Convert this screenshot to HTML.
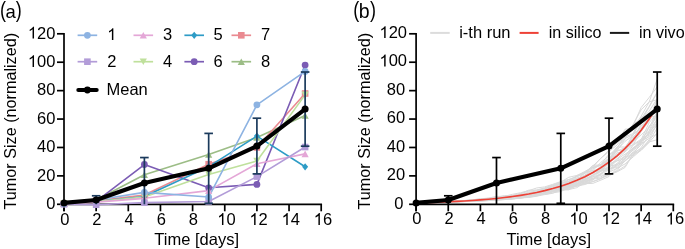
<!DOCTYPE html>
<html><head><meta charset="utf-8"><style>
html,body{margin:0;padding:0;background:#fff;width:685px;height:249px;overflow:hidden}
svg{display:block;will-change:transform}
text{font-family:"Liberation Sans", sans-serif;fill:#000}
</style></head><body>
<svg width="685" height="249" viewBox="0 0 685 249">
<text transform="translate(0.1,17.0) scale(0.8,1)" font-size="22.5">(</text><text x="5.5" y="17.7" font-size="18.5">a</text><text transform="translate(15.8,17.0) scale(0.8,1)" font-size="22.5">)</text>
<line x1="64.00" y1="33.00" x2="64.00" y2="211.30" stroke="#000" stroke-width="1.7"/>
<line x1="63.15" y1="204.30" x2="322.05" y2="204.30" stroke="#000" stroke-width="1.7"/>
<line x1="57.00" y1="204.30" x2="64.00" y2="204.30" stroke="#000" stroke-width="1.7"/>
<text x="46.22" y="209.10" font-size="16.5">0</text>
<line x1="57.00" y1="175.88" x2="64.00" y2="175.88" stroke="#000" stroke-width="1.7"/>
<text x="37.05" y="180.68" font-size="16.5">2</text><text x="46.22" y="180.68" font-size="16.5">0</text>
<line x1="57.00" y1="147.47" x2="64.00" y2="147.47" stroke="#000" stroke-width="1.7"/>
<text x="37.05" y="152.27" font-size="16.5">4</text><text x="46.22" y="152.27" font-size="16.5">0</text>
<line x1="57.00" y1="119.05" x2="64.00" y2="119.05" stroke="#000" stroke-width="1.7"/>
<text x="37.05" y="123.85" font-size="16.5">6</text><text x="46.22" y="123.85" font-size="16.5">0</text>
<line x1="57.00" y1="90.64" x2="64.00" y2="90.64" stroke="#000" stroke-width="1.7"/>
<text x="37.05" y="95.44" font-size="16.5">8</text><text x="46.22" y="95.44" font-size="16.5">0</text>
<line x1="57.00" y1="62.22" x2="64.00" y2="62.22" stroke="#000" stroke-width="1.7"/>
<path transform="translate(27.87,67.02) scale(0.00806,-0.00806)" d="M763,0 L583,0 L583,1147 C540,1106 483,1064 413,1023 C343,982 280,951 223,930 L223,1104 C324,1151 412,1209 487,1276 C562,1343 615,1409 646,1466 L763,1466 Z" fill="#000"/><text x="37.05" y="67.02" font-size="16.5">0</text><text x="46.22" y="67.02" font-size="16.5">0</text>
<line x1="57.00" y1="33.80" x2="64.00" y2="33.80" stroke="#000" stroke-width="1.7"/>
<path transform="translate(27.87,38.60) scale(0.00806,-0.00806)" d="M763,0 L583,0 L583,1147 C540,1106 483,1064 413,1023 C343,982 280,951 223,930 L223,1104 C324,1151 412,1209 487,1276 C562,1343 615,1409 646,1466 L763,1466 Z" fill="#000"/><text x="37.05" y="38.60" font-size="16.5">2</text><text x="46.22" y="38.60" font-size="16.5">0</text>
<line x1="64.00" y1="204.30" x2="64.00" y2="211.30" stroke="#000" stroke-width="1.7"/>
<text x="60.21" y="224.90" font-size="16.5">0</text>
<line x1="96.15" y1="204.30" x2="96.15" y2="211.30" stroke="#000" stroke-width="1.7"/>
<text x="92.36" y="224.90" font-size="16.5">2</text>
<line x1="128.30" y1="204.30" x2="128.30" y2="211.30" stroke="#000" stroke-width="1.7"/>
<text x="124.51" y="224.90" font-size="16.5">4</text>
<line x1="160.45" y1="204.30" x2="160.45" y2="211.30" stroke="#000" stroke-width="1.7"/>
<text x="156.66" y="224.90" font-size="16.5">6</text>
<line x1="192.60" y1="204.30" x2="192.60" y2="211.30" stroke="#000" stroke-width="1.7"/>
<text x="188.81" y="224.90" font-size="16.5">8</text>
<line x1="224.75" y1="204.30" x2="224.75" y2="211.30" stroke="#000" stroke-width="1.7"/>
<path transform="translate(217.27,224.90) scale(0.00806,-0.00806)" d="M763,0 L583,0 L583,1147 C540,1106 483,1064 413,1023 C343,982 280,951 223,930 L223,1104 C324,1151 412,1209 487,1276 C562,1343 615,1409 646,1466 L763,1466 Z" fill="#000"/><text x="226.45" y="224.90" font-size="16.5">0</text>
<line x1="256.90" y1="204.30" x2="256.90" y2="211.30" stroke="#000" stroke-width="1.7"/>
<path transform="translate(249.42,224.90) scale(0.00806,-0.00806)" d="M763,0 L583,0 L583,1147 C540,1106 483,1064 413,1023 C343,982 280,951 223,930 L223,1104 C324,1151 412,1209 487,1276 C562,1343 615,1409 646,1466 L763,1466 Z" fill="#000"/><text x="258.60" y="224.90" font-size="16.5">2</text>
<line x1="289.05" y1="204.30" x2="289.05" y2="211.30" stroke="#000" stroke-width="1.7"/>
<path transform="translate(281.57,224.90) scale(0.00806,-0.00806)" d="M763,0 L583,0 L583,1147 C540,1106 483,1064 413,1023 C343,982 280,951 223,930 L223,1104 C324,1151 412,1209 487,1276 C562,1343 615,1409 646,1466 L763,1466 Z" fill="#000"/><text x="290.75" y="224.90" font-size="16.5">4</text>
<line x1="321.20" y1="204.30" x2="321.20" y2="211.30" stroke="#000" stroke-width="1.7"/>
<path transform="translate(313.72,224.90) scale(0.00806,-0.00806)" d="M763,0 L583,0 L583,1147 C540,1106 483,1064 413,1023 C343,982 280,951 223,930 L223,1104 C324,1151 412,1209 487,1276 C562,1343 615,1409 646,1466 L763,1466 Z" fill="#000"/><text x="322.90" y="224.90" font-size="16.5">6</text>
<text x="196.70" y="244.7" text-anchor="middle" font-size="16.5">Time [days]</text>
<text transform="translate(15.80,121.20) rotate(-90)" x="0" y="0" text-anchor="middle" font-size="16.2">Tumor Size (normalized)</text>
<polyline points="64.00,203.59 96.15,200.04 144.38,174.75 208.67,154.57 256.90,137.52 305.12,115.50" fill="none" stroke="#9cbd86" stroke-width="1.6" stroke-linejoin="round"/>
<polyline points="64.00,203.59 96.15,200.75 144.38,195.06 208.67,164.23 256.90,147.47 305.12,93.48" fill="none" stroke="#ea8a91" stroke-width="1.6" stroke-linejoin="round"/>
<polyline points="64.00,203.59 96.15,201.46 144.38,164.52 208.67,187.82 256.90,184.41 305.12,65.06" fill="none" stroke="#7b5cb4" stroke-width="1.6" stroke-linejoin="round"/>
<polyline points="64.00,203.59 96.15,201.46 144.38,196.49 208.67,166.65 256.90,136.10 305.12,166.79" fill="none" stroke="#2e9cc6" stroke-width="1.6" stroke-linejoin="round"/>
<polyline points="64.00,203.59 96.15,201.46 144.38,197.05 208.67,174.46 256.90,160.97 305.12,94.90" fill="none" stroke="#bfe09c" stroke-width="1.6" stroke-linejoin="round"/>
<polyline points="64.00,203.59 96.15,202.17 144.38,198.33 208.67,190.66 256.90,163.81 305.12,153.86" fill="none" stroke="#e4a7d7" stroke-width="1.6" stroke-linejoin="round"/>
<polyline points="64.00,204.30 96.15,204.73 144.38,202.60 208.67,201.46 256.90,176.59 305.12,147.04" fill="none" stroke="#b29cd8" stroke-width="1.6" stroke-linejoin="round"/>
<polyline points="64.00,203.59 96.15,200.04 144.38,192.37 208.67,197.05 256.90,104.84 305.12,71.46" fill="none" stroke="#8db3e2" stroke-width="1.6" stroke-linejoin="round"/>
<polygon points="64.00,200.29 67.60,206.89 60.40,206.89" fill="#9cbd86"/>
<polygon points="96.15,196.74 99.75,203.34 92.55,203.34" fill="#9cbd86"/>
<polygon points="144.38,171.45 147.97,178.05 140.78,178.05" fill="#9cbd86"/>
<polygon points="208.67,151.27 212.27,157.87 205.07,157.87" fill="#9cbd86"/>
<polygon points="256.90,134.22 260.50,140.82 253.30,140.82" fill="#9cbd86"/>
<polygon points="305.12,112.20 308.73,118.80 301.52,118.80" fill="#9cbd86"/>
<rect x="60.70" y="200.29" width="6.60" height="6.60" fill="#ea8a91"/>
<rect x="92.85" y="197.45" width="6.60" height="6.60" fill="#ea8a91"/>
<rect x="141.07" y="191.76" width="6.60" height="6.60" fill="#ea8a91"/>
<rect x="205.37" y="160.93" width="6.60" height="6.60" fill="#ea8a91"/>
<rect x="253.60" y="144.17" width="6.60" height="6.60" fill="#ea8a91"/>
<rect x="301.82" y="90.18" width="6.60" height="6.60" fill="#ea8a91"/>
<circle cx="64.00" cy="203.59" r="3.40" fill="#7b5cb4"/>
<circle cx="96.15" cy="201.46" r="3.40" fill="#7b5cb4"/>
<circle cx="144.38" cy="164.52" r="3.40" fill="#7b5cb4"/>
<circle cx="208.67" cy="187.82" r="3.40" fill="#7b5cb4"/>
<circle cx="256.90" cy="184.41" r="3.40" fill="#7b5cb4"/>
<circle cx="305.12" cy="65.06" r="3.40" fill="#7b5cb4"/>
<polygon points="64.00,199.99 67.00,203.59 64.00,207.19 61.00,203.59" fill="#2e9cc6"/>
<polygon points="96.15,197.86 99.15,201.46 96.15,205.06 93.15,201.46" fill="#2e9cc6"/>
<polygon points="144.38,192.89 147.38,196.49 144.38,200.09 141.38,196.49" fill="#2e9cc6"/>
<polygon points="208.67,163.05 211.67,166.65 208.67,170.25 205.67,166.65" fill="#2e9cc6"/>
<polygon points="256.90,132.50 259.90,136.10 256.90,139.70 253.90,136.10" fill="#2e9cc6"/>
<polygon points="305.12,163.19 308.12,166.79 305.12,170.39 302.12,166.79" fill="#2e9cc6"/>
<polygon points="60.40,200.29 67.60,200.29 64.00,206.89" fill="#bfe09c"/>
<polygon points="92.55,198.16 99.75,198.16 96.15,204.76" fill="#bfe09c"/>
<polygon points="140.78,193.75 147.97,193.75 144.38,200.35" fill="#bfe09c"/>
<polygon points="205.07,171.16 212.27,171.16 208.67,177.76" fill="#bfe09c"/>
<polygon points="253.30,157.67 260.50,157.67 256.90,164.27" fill="#bfe09c"/>
<polygon points="301.52,91.60 308.73,91.60 305.12,98.20" fill="#bfe09c"/>
<polygon points="64.00,200.29 67.60,206.89 60.40,206.89" fill="#e4a7d7"/>
<polygon points="96.15,198.87 99.75,205.47 92.55,205.47" fill="#e4a7d7"/>
<polygon points="144.38,195.03 147.97,201.63 140.78,201.63" fill="#e4a7d7"/>
<polygon points="208.67,187.36 212.27,193.96 205.07,193.96" fill="#e4a7d7"/>
<polygon points="256.90,160.51 260.50,167.11 253.30,167.11" fill="#e4a7d7"/>
<polygon points="305.12,150.56 308.73,157.16 301.52,157.16" fill="#e4a7d7"/>
<rect x="60.70" y="201.00" width="6.60" height="6.60" fill="#b29cd8"/>
<rect x="92.85" y="201.43" width="6.60" height="6.60" fill="#b29cd8"/>
<rect x="141.07" y="199.30" width="6.60" height="6.60" fill="#b29cd8"/>
<rect x="205.37" y="198.16" width="6.60" height="6.60" fill="#b29cd8"/>
<rect x="253.60" y="173.29" width="6.60" height="6.60" fill="#b29cd8"/>
<rect x="301.82" y="143.74" width="6.60" height="6.60" fill="#b29cd8"/>
<circle cx="64.00" cy="203.59" r="3.40" fill="#8db3e2"/>
<circle cx="96.15" cy="200.04" r="3.40" fill="#8db3e2"/>
<circle cx="144.38" cy="192.37" r="3.40" fill="#8db3e2"/>
<circle cx="208.67" cy="197.05" r="3.40" fill="#8db3e2"/>
<circle cx="256.90" cy="104.84" r="3.40" fill="#8db3e2"/>
<circle cx="305.12" cy="71.46" r="3.40" fill="#8db3e2"/>
<line x1="96.15" y1="195.78" x2="96.15" y2="204.30" stroke="#1b3a5c" stroke-width="1.7"/>
<line x1="91.85" y1="195.78" x2="100.45" y2="195.78" stroke="#1b3a5c" stroke-width="1.7"/>
<line x1="144.38" y1="157.56" x2="144.38" y2="204.30" stroke="#1b3a5c" stroke-width="1.7"/>
<line x1="140.07" y1="157.56" x2="148.68" y2="157.56" stroke="#1b3a5c" stroke-width="1.7"/>
<line x1="208.67" y1="133.40" x2="208.67" y2="203.31" stroke="#1b3a5c" stroke-width="1.7"/>
<line x1="204.37" y1="133.40" x2="212.97" y2="133.40" stroke="#1b3a5c" stroke-width="1.7"/>
<line x1="204.37" y1="203.31" x2="212.97" y2="203.31" stroke="#1b3a5c" stroke-width="1.7"/>
<line x1="256.90" y1="118.20" x2="256.90" y2="173.89" stroke="#1b3a5c" stroke-width="1.7"/>
<line x1="252.60" y1="118.20" x2="261.20" y2="118.20" stroke="#1b3a5c" stroke-width="1.7"/>
<line x1="252.60" y1="173.89" x2="261.20" y2="173.89" stroke="#1b3a5c" stroke-width="1.7"/>
<line x1="305.12" y1="72.02" x2="305.12" y2="146.19" stroke="#1b3a5c" stroke-width="1.7"/>
<line x1="300.82" y1="72.02" x2="309.43" y2="72.02" stroke="#1b3a5c" stroke-width="1.7"/>
<line x1="300.82" y1="146.19" x2="309.43" y2="146.19" stroke="#1b3a5c" stroke-width="1.7"/>
<polyline points="64.00,202.88 96.15,200.04 144.38,182.99 208.67,168.35 256.90,146.05 305.12,109.11" fill="none" stroke="#000" stroke-width="4.1" stroke-linejoin="round" stroke-linecap="round"/>
<circle cx="64.00" cy="202.88" r="3.5" fill="#000"/>
<circle cx="96.15" cy="200.04" r="3.5" fill="#000"/>
<circle cx="144.38" cy="182.99" r="3.5" fill="#000"/>
<circle cx="208.67" cy="168.35" r="3.5" fill="#000"/>
<circle cx="256.90" cy="146.05" r="3.5" fill="#000"/>
<circle cx="305.12" cy="109.11" r="3.5" fill="#000"/>
<line x1="77.60" y1="35.30" x2="97.20" y2="35.30" stroke="#8db3e2" stroke-width="1.7"/>
<circle cx="87.40" cy="35.30" r="3.40" fill="#8db3e2"/>
<path transform="translate(107.20,40.00) scale(0.00806,-0.00806)" d="M763,0 L583,0 L583,1147 C540,1106 483,1064 413,1023 C343,982 280,951 223,930 L223,1104 C324,1151 412,1209 487,1276 C562,1343 615,1409 646,1466 L763,1466 Z" fill="#000"/>
<line x1="77.60" y1="61.70" x2="97.20" y2="61.70" stroke="#b29cd8" stroke-width="1.7"/>
<rect x="84.10" y="58.40" width="6.60" height="6.60" fill="#b29cd8"/>
<text x="107.20" y="66.70" font-size="16.5">2</text>
<line x1="133.50" y1="35.30" x2="153.10" y2="35.30" stroke="#e4a7d7" stroke-width="1.7"/>
<polygon points="143.30,32.00 146.90,38.60 139.70,38.60" fill="#e4a7d7"/>
<text x="163.10" y="40.00" font-size="16.5">3</text>
<line x1="133.50" y1="61.70" x2="153.10" y2="61.70" stroke="#bfe09c" stroke-width="1.7"/>
<polygon points="139.70,58.40 146.90,58.40 143.30,65.00" fill="#bfe09c"/>
<text x="163.10" y="66.70" font-size="16.5">4</text>
<line x1="184.40" y1="35.30" x2="204.00" y2="35.30" stroke="#2e9cc6" stroke-width="1.7"/>
<polygon points="194.20,31.70 197.20,35.30 194.20,38.90 191.20,35.30" fill="#2e9cc6"/>
<text x="213.60" y="40.00" font-size="16.5">5</text>
<line x1="184.40" y1="61.70" x2="204.00" y2="61.70" stroke="#7b5cb4" stroke-width="1.7"/>
<circle cx="194.20" cy="61.70" r="3.40" fill="#7b5cb4"/>
<text x="213.60" y="66.70" font-size="16.5">6</text>
<line x1="231.50" y1="35.30" x2="251.10" y2="35.30" stroke="#ea8a91" stroke-width="1.7"/>
<rect x="238.00" y="32.00" width="6.60" height="6.60" fill="#ea8a91"/>
<text x="261.10" y="40.00" font-size="16.5">7</text>
<line x1="231.50" y1="61.70" x2="251.10" y2="61.70" stroke="#9cbd86" stroke-width="1.7"/>
<polygon points="241.30,58.40 244.90,65.00 237.70,65.00" fill="#9cbd86"/>
<text x="261.10" y="66.70" font-size="16.5">8</text>
<line x1="78.3" y1="90.0" x2="96.7" y2="90.0" stroke="#000" stroke-width="4.0" stroke-linecap="round"/>
<circle cx="87.4" cy="90.0" r="3.4" fill="#000"/>
<text x="106.5" y="94.5" font-size="16.5">Mean</text>
<text transform="translate(353.2,17.0) scale(0.8,1)" font-size="22.5">(</text><text x="358.7" y="17.7" font-size="19.5">b</text><text transform="translate(370.0,17.0) scale(0.8,1)" font-size="22.5">)</text>
<line x1="416.10" y1="33.00" x2="416.10" y2="211.30" stroke="#000" stroke-width="1.7"/>
<line x1="415.25" y1="204.30" x2="674.15" y2="204.30" stroke="#000" stroke-width="1.7"/>
<line x1="409.10" y1="204.30" x2="416.10" y2="204.30" stroke="#000" stroke-width="1.7"/>
<text x="394.32" y="209.10" font-size="16.5">0</text>
<line x1="409.10" y1="175.88" x2="416.10" y2="175.88" stroke="#000" stroke-width="1.7"/>
<text x="386.75" y="180.08" font-size="16.5">2</text><text x="395.92" y="180.08" font-size="16.5">0</text>
<line x1="409.10" y1="147.47" x2="416.10" y2="147.47" stroke="#000" stroke-width="1.7"/>
<text x="386.75" y="151.67" font-size="16.5">4</text><text x="395.92" y="151.67" font-size="16.5">0</text>
<line x1="409.10" y1="119.05" x2="416.10" y2="119.05" stroke="#000" stroke-width="1.7"/>
<text x="386.75" y="123.25" font-size="16.5">6</text><text x="395.92" y="123.25" font-size="16.5">0</text>
<line x1="409.10" y1="90.64" x2="416.10" y2="90.64" stroke="#000" stroke-width="1.7"/>
<text x="386.75" y="94.84" font-size="16.5">8</text><text x="395.92" y="94.84" font-size="16.5">0</text>
<line x1="409.10" y1="62.22" x2="416.10" y2="62.22" stroke="#000" stroke-width="1.7"/>
<path transform="translate(379.47,66.42) scale(0.00806,-0.00806)" d="M763,0 L583,0 L583,1147 C540,1106 483,1064 413,1023 C343,982 280,951 223,930 L223,1104 C324,1151 412,1209 487,1276 C562,1343 615,1409 646,1466 L763,1466 Z" fill="#000"/><text x="388.65" y="66.42" font-size="16.5">0</text><text x="397.82" y="66.42" font-size="16.5">0</text>
<line x1="409.10" y1="33.80" x2="416.10" y2="33.80" stroke="#000" stroke-width="1.7"/>
<path transform="translate(379.47,38.00) scale(0.00806,-0.00806)" d="M763,0 L583,0 L583,1147 C540,1106 483,1064 413,1023 C343,982 280,951 223,930 L223,1104 C324,1151 412,1209 487,1276 C562,1343 615,1409 646,1466 L763,1466 Z" fill="#000"/><text x="388.65" y="38.00" font-size="16.5">2</text><text x="397.82" y="38.00" font-size="16.5">0</text>
<line x1="416.10" y1="204.30" x2="416.10" y2="211.30" stroke="#000" stroke-width="1.7"/>
<text x="412.31" y="224.40" font-size="16.5">0</text>
<line x1="448.25" y1="204.30" x2="448.25" y2="211.30" stroke="#000" stroke-width="1.7"/>
<text x="444.46" y="224.40" font-size="16.5">2</text>
<line x1="480.40" y1="204.30" x2="480.40" y2="211.30" stroke="#000" stroke-width="1.7"/>
<text x="476.61" y="224.40" font-size="16.5">4</text>
<line x1="512.55" y1="204.30" x2="512.55" y2="211.30" stroke="#000" stroke-width="1.7"/>
<text x="508.76" y="224.40" font-size="16.5">6</text>
<line x1="544.70" y1="204.30" x2="544.70" y2="211.30" stroke="#000" stroke-width="1.7"/>
<text x="540.91" y="224.40" font-size="16.5">8</text>
<line x1="576.85" y1="204.30" x2="576.85" y2="211.30" stroke="#000" stroke-width="1.7"/>
<path transform="translate(569.37,224.40) scale(0.00806,-0.00806)" d="M763,0 L583,0 L583,1147 C540,1106 483,1064 413,1023 C343,982 280,951 223,930 L223,1104 C324,1151 412,1209 487,1276 C562,1343 615,1409 646,1466 L763,1466 Z" fill="#000"/><text x="578.55" y="224.40" font-size="16.5">0</text>
<line x1="609.00" y1="204.30" x2="609.00" y2="211.30" stroke="#000" stroke-width="1.7"/>
<path transform="translate(601.52,224.40) scale(0.00806,-0.00806)" d="M763,0 L583,0 L583,1147 C540,1106 483,1064 413,1023 C343,982 280,951 223,930 L223,1104 C324,1151 412,1209 487,1276 C562,1343 615,1409 646,1466 L763,1466 Z" fill="#000"/><text x="610.70" y="224.40" font-size="16.5">2</text>
<line x1="641.15" y1="204.30" x2="641.15" y2="211.30" stroke="#000" stroke-width="1.7"/>
<path transform="translate(633.67,224.40) scale(0.00806,-0.00806)" d="M763,0 L583,0 L583,1147 C540,1106 483,1064 413,1023 C343,982 280,951 223,930 L223,1104 C324,1151 412,1209 487,1276 C562,1343 615,1409 646,1466 L763,1466 Z" fill="#000"/><text x="642.85" y="224.40" font-size="16.5">4</text>
<line x1="673.30" y1="204.30" x2="673.30" y2="211.30" stroke="#000" stroke-width="1.7"/>
<path transform="translate(665.82,224.40) scale(0.00806,-0.00806)" d="M763,0 L583,0 L583,1147 C540,1106 483,1064 413,1023 C343,982 280,951 223,930 L223,1104 C324,1151 412,1209 487,1276 C562,1343 615,1409 646,1466 L763,1466 Z" fill="#000"/><text x="675.00" y="224.40" font-size="16.5">6</text>
<text x="548.80" y="244.7" text-anchor="middle" font-size="16.5">Time [days]</text>
<text transform="translate(370.10,121.20) rotate(-90)" x="0" y="0" text-anchor="middle" font-size="16.2">Tumor Size (normalized)</text>
<polyline points="416.10,202.87 424.14,202.72 432.18,202.53 440.21,202.42 448.25,202.17 456.29,202.08 464.33,201.60 472.36,201.25 480.40,200.64 488.44,200.48 496.48,199.97 504.51,199.46 512.55,198.95 520.59,197.96 528.62,197.44 536.66,196.26 544.70,194.40 552.74,192.92 560.77,191.54 568.81,187.57 576.85,186.02 584.89,184.52 592.92,181.29 600.96,178.65 609.00,175.03 617.04,170.68 625.08,160.24 633.11,155.83 641.15,149.29 649.19,139.66 657.23,123.36" fill="none" stroke="#d9d9d9" stroke-width="1"/>
<polyline points="416.10,202.87 424.14,202.71 432.18,202.46 440.21,202.33 448.25,202.11 456.29,201.79 464.33,201.24 472.36,201.17 480.40,201.26 488.44,200.56 496.48,200.19 504.51,199.57 512.55,198.59 520.59,197.66 528.62,196.59 536.66,195.73 544.70,193.64 552.74,191.40 560.77,190.25 568.81,188.99 576.85,185.99 584.89,183.11 592.92,181.81 600.96,178.63 609.00,172.32 617.04,168.34 625.08,163.91 633.11,156.98 641.15,150.08 649.19,141.92 657.23,139.73" fill="none" stroke="#d9d9d9" stroke-width="1"/>
<polyline points="416.10,202.87 424.14,202.69 432.18,202.52 440.21,202.26 448.25,202.02 456.29,201.77 464.33,201.36 472.36,200.71 480.40,200.40 488.44,199.80 496.48,199.02 504.51,199.08 512.55,198.57 520.59,197.38 528.62,197.18 536.66,195.92 544.70,193.66 552.74,191.62 560.77,189.82 568.81,189.81 576.85,184.65 584.89,182.07 592.92,178.62 600.96,175.13 609.00,174.76 617.04,171.90 625.08,167.46 633.11,154.21 641.15,150.43 649.19,142.38 657.23,133.12" fill="none" stroke="#d9d9d9" stroke-width="1"/>
<polyline points="416.10,202.87 424.14,202.69 432.18,202.49 440.21,202.33 448.25,202.26 456.29,201.91 464.33,201.54 472.36,200.99 480.40,200.68 488.44,200.42 496.48,199.81 504.51,199.58 512.55,198.95 520.59,198.19 528.62,196.77 536.66,194.39 544.70,192.97 552.74,191.02 560.77,189.63 568.81,187.71 576.85,186.12 584.89,183.68 592.92,183.37 600.96,180.09 609.00,176.50 617.04,168.37 625.08,160.88 633.11,151.73 641.15,140.79 649.19,136.70 657.23,123.64" fill="none" stroke="#d9d9d9" stroke-width="1"/>
<polyline points="416.10,202.87 424.14,202.68 432.18,202.46 440.21,202.25 448.25,202.11 456.29,201.80 464.33,201.57 472.36,201.16 480.40,200.84 488.44,200.27 496.48,200.28 504.51,198.79 512.55,197.65 520.59,197.17 528.62,196.61 536.66,195.30 544.70,193.45 552.74,191.70 560.77,189.75 568.81,189.57 576.85,187.65 584.89,182.53 592.92,179.17 600.96,178.00 609.00,174.38 617.04,171.13 625.08,165.93 633.11,154.32 641.15,147.64 649.19,134.57 657.23,125.49" fill="none" stroke="#d9d9d9" stroke-width="1"/>
<polyline points="416.10,202.87 424.14,202.71 432.18,202.45 440.21,202.26 448.25,202.08 456.29,201.67 464.33,201.36 472.36,201.02 480.40,200.32 488.44,200.42 496.48,199.71 504.51,199.31 512.55,198.82 520.59,197.94 528.62,196.09 536.66,194.98 544.70,194.62 552.74,193.27 560.77,189.66 568.81,186.70 576.85,185.92 584.89,179.74 592.92,178.26 600.96,176.83 609.00,172.18 617.04,164.72 625.08,155.33 633.11,147.73 641.15,144.19 649.19,138.32 657.23,133.76" fill="none" stroke="#d9d9d9" stroke-width="1"/>
<polyline points="416.10,202.87 424.14,202.69 432.18,202.49 440.21,202.31 448.25,202.07 456.29,201.84 464.33,201.61 472.36,201.34 480.40,201.01 488.44,200.62 496.48,199.75 504.51,198.95 512.55,198.55 520.59,197.22 528.62,195.97 536.66,193.94 544.70,193.01 552.74,191.66 560.77,190.34 568.81,187.81 576.85,184.67 584.89,181.73 592.92,178.95 600.96,174.12 609.00,169.89 617.04,164.53 625.08,161.37 633.11,153.27 641.15,148.51 649.19,141.17 657.23,128.05" fill="none" stroke="#d9d9d9" stroke-width="1"/>
<polyline points="416.10,202.87 424.14,202.66 432.18,202.45 440.21,202.23 448.25,201.90 456.29,201.50 464.33,201.06 472.36,200.82 480.40,200.41 488.44,200.07 496.48,199.60 504.51,199.10 512.55,198.23 520.59,197.98 528.62,196.99 536.66,195.07 544.70,193.98 552.74,191.58 560.77,190.64 568.81,188.29 576.85,184.89 584.89,183.15 592.92,180.17 600.96,171.22 609.00,169.49 617.04,166.04 625.08,160.94 633.11,153.06 641.15,144.72 649.19,131.34 657.23,118.60" fill="none" stroke="#d9d9d9" stroke-width="1"/>
<polyline points="416.10,202.87 424.14,202.69 432.18,202.51 440.21,202.33 448.25,202.09 456.29,201.68 464.33,201.32 472.36,200.79 480.40,200.19 488.44,199.87 496.48,198.75 504.51,198.49 512.55,197.96 520.59,197.12 528.62,195.34 536.66,194.30 544.70,193.35 552.74,191.16 560.77,188.24 568.81,186.53 576.85,184.41 584.89,179.95 592.92,175.56 600.96,170.87 609.00,169.16 617.04,163.29 625.08,156.56 633.11,155.34 641.15,141.34 649.19,132.29 657.23,123.69" fill="none" stroke="#d9d9d9" stroke-width="1"/>
<polyline points="416.10,202.87 424.14,202.66 432.18,202.47 440.21,202.23 448.25,201.91 456.29,201.53 464.33,201.22 472.36,200.99 480.40,200.65 488.44,200.24 496.48,199.80 504.51,198.87 512.55,198.07 520.59,196.92 528.62,196.09 536.66,195.03 544.70,193.32 552.74,191.60 560.77,188.35 568.81,187.21 576.85,184.10 584.89,181.06 592.92,179.39 600.96,173.28 609.00,168.30 617.04,167.67 625.08,158.16 633.11,147.67 641.15,143.23 649.19,126.05 657.23,117.11" fill="none" stroke="#d9d9d9" stroke-width="1"/>
<polyline points="416.10,202.87 424.14,202.68 432.18,202.47 440.21,202.28 448.25,202.12 456.29,201.72 464.33,201.42 472.36,200.85 480.40,200.30 488.44,199.94 496.48,199.45 504.51,198.01 512.55,196.65 520.59,195.71 528.62,195.13 536.66,194.48 544.70,193.02 552.74,189.76 560.77,187.73 568.81,186.11 576.85,184.90 584.89,181.05 592.92,178.54 600.96,173.72 609.00,167.06 617.04,159.38 625.08,154.06 633.11,148.81 641.15,139.69 649.19,122.60 657.23,113.30" fill="none" stroke="#d9d9d9" stroke-width="1"/>
<polyline points="416.10,202.87 424.14,202.66 432.18,202.43 440.21,202.02 448.25,201.81 456.29,201.53 464.33,201.22 472.36,200.73 480.40,200.41 488.44,200.18 496.48,199.90 504.51,198.87 512.55,197.96 520.59,196.98 528.62,194.48 536.66,192.97 544.70,191.03 552.74,190.20 560.77,187.99 568.81,186.01 576.85,183.51 584.89,179.21 592.92,174.97 600.96,170.83 609.00,166.28 617.04,164.51 625.08,158.87 633.11,148.86 641.15,141.26 649.19,133.82 657.23,119.11" fill="none" stroke="#d9d9d9" stroke-width="1"/>
<polyline points="416.10,202.87 424.14,202.68 432.18,202.44 440.21,202.20 448.25,201.80 456.29,201.45 464.33,201.00 472.36,200.42 480.40,200.54 488.44,199.88 496.48,199.53 504.51,198.70 512.55,197.65 520.59,195.93 528.62,194.91 536.66,192.59 544.70,191.86 552.74,190.18 560.77,188.02 568.81,184.63 576.85,182.35 584.89,180.20 592.92,176.77 600.96,174.55 609.00,165.81 617.04,158.65 625.08,151.90 633.11,144.57 641.15,139.15 649.19,130.48 657.23,114.09" fill="none" stroke="#d9d9d9" stroke-width="1"/>
<polyline points="416.10,202.87 424.14,202.68 432.18,202.41 440.21,202.08 448.25,201.79 456.29,201.42 464.33,201.05 472.36,200.38 480.40,200.10 488.44,199.55 496.48,198.78 504.51,197.54 512.55,196.99 520.59,195.93 528.62,195.06 536.66,193.98 544.70,192.60 552.74,190.37 560.77,187.25 568.81,185.76 576.85,183.45 584.89,180.31 592.92,175.51 600.96,169.80 609.00,167.93 617.04,160.50 625.08,156.45 633.11,145.29 641.15,140.23 649.19,133.14 657.23,122.17" fill="none" stroke="#d9d9d9" stroke-width="1"/>
<polyline points="416.10,202.87 424.14,202.67 432.18,202.44 440.21,202.16 448.25,201.86 456.29,201.48 464.33,200.98 472.36,200.70 480.40,200.17 488.44,199.58 496.48,199.47 504.51,198.28 512.55,197.54 520.59,196.59 528.62,195.33 536.66,193.60 544.70,191.60 552.74,189.33 560.77,187.96 568.81,184.52 576.85,181.31 584.89,178.86 592.92,174.99 600.96,168.98 609.00,163.54 617.04,156.63 625.08,150.75 633.11,139.84 641.15,123.74 649.19,116.64 657.23,116.69" fill="none" stroke="#d9d9d9" stroke-width="1"/>
<polyline points="416.10,202.87 424.14,202.66 432.18,202.46 440.21,202.28 448.25,201.91 456.29,201.43 464.33,200.91 472.36,200.57 480.40,199.70 488.44,199.29 496.48,198.85 504.51,197.97 512.55,196.91 520.59,195.81 528.62,194.35 536.66,194.28 544.70,191.03 552.74,189.73 560.77,186.78 568.81,185.27 576.85,181.86 584.89,178.64 592.92,177.04 600.96,170.72 609.00,163.75 617.04,160.88 625.08,158.62 633.11,149.85 641.15,141.20 649.19,127.49 657.23,114.01" fill="none" stroke="#d9d9d9" stroke-width="1"/>
<polyline points="416.10,202.87 424.14,202.64 432.18,202.40 440.21,202.12 448.25,202.00 456.29,201.67 464.33,201.31 472.36,200.77 480.40,200.08 488.44,199.38 496.48,198.37 504.51,197.90 512.55,196.77 520.59,195.74 528.62,194.43 536.66,192.74 544.70,191.31 552.74,189.11 560.77,186.92 568.81,183.16 576.85,180.79 584.89,177.09 592.92,168.67 600.96,165.04 609.00,160.36 617.04,152.84 625.08,151.02 633.11,140.37 641.15,129.00 649.19,118.09 657.23,102.37" fill="none" stroke="#d9d9d9" stroke-width="1"/>
<polyline points="416.10,202.87 424.14,202.64 432.18,202.41 440.21,202.11 448.25,201.83 456.29,201.33 464.33,200.92 472.36,200.69 480.40,200.05 488.44,199.63 496.48,198.46 504.51,197.77 512.55,197.60 520.59,196.27 528.62,194.10 536.66,192.43 544.70,191.27 552.74,188.59 560.77,185.85 568.81,181.78 576.85,178.42 584.89,175.39 592.92,173.53 600.96,168.17 609.00,162.25 617.04,156.39 625.08,148.19 633.11,144.64 641.15,131.62 649.19,120.83 657.23,106.48" fill="none" stroke="#d9d9d9" stroke-width="1"/>
<polyline points="416.10,202.87 424.14,202.66 432.18,202.40 440.21,202.08 448.25,201.78 456.29,201.37 464.33,201.05 472.36,200.45 480.40,199.88 488.44,199.57 496.48,198.30 504.51,197.82 512.55,196.68 520.59,196.08 528.62,195.35 536.66,192.88 544.70,191.93 552.74,190.99 560.77,187.90 568.81,186.14 576.85,182.23 584.89,175.12 592.92,172.42 600.96,167.05 609.00,160.61 617.04,154.39 625.08,148.20 633.11,134.55 641.15,127.79 649.19,116.24 657.23,104.27" fill="none" stroke="#d9d9d9" stroke-width="1"/>
<polyline points="416.10,202.87 424.14,202.65 432.18,202.40 440.21,202.08 448.25,201.70 456.29,201.17 464.33,201.06 472.36,200.61 480.40,200.07 488.44,199.52 496.48,198.46 504.51,197.55 512.55,196.43 520.59,196.01 528.62,194.84 536.66,192.91 544.70,191.17 552.74,189.30 560.77,186.64 568.81,183.91 576.85,181.78 584.89,174.83 592.92,172.47 600.96,166.14 609.00,159.60 617.04,151.33 625.08,147.40 633.11,142.48 641.15,129.53 649.19,116.92 657.23,116.40" fill="none" stroke="#d9d9d9" stroke-width="1"/>
<polyline points="416.10,202.87 424.14,202.67 432.18,202.42 440.21,202.14 448.25,201.76 456.29,201.46 464.33,200.59 472.36,199.99 480.40,199.17 488.44,198.65 496.48,198.70 504.51,197.52 512.55,196.63 520.59,195.06 528.62,193.75 536.66,191.67 544.70,190.67 552.74,188.67 560.77,185.99 568.81,183.88 576.85,180.79 584.89,175.62 592.92,167.79 600.96,164.96 609.00,157.93 617.04,155.75 625.08,148.99 633.11,138.19 641.15,125.69 649.19,119.99 657.23,101.97" fill="none" stroke="#d9d9d9" stroke-width="1"/>
<polyline points="416.10,202.87 424.14,202.63 432.18,202.34 440.21,202.02 448.25,201.71 456.29,201.29 464.33,200.96 472.36,200.54 480.40,200.27 488.44,199.66 496.48,198.94 504.51,197.73 512.55,196.41 520.59,195.72 528.62,194.03 536.66,191.91 544.70,189.28 552.74,187.51 560.77,184.92 568.81,182.67 576.85,177.99 584.89,177.09 592.92,171.57 600.96,170.77 609.00,158.99 617.04,150.15 625.08,150.41 633.11,141.45 641.15,134.88 649.19,127.51 657.23,111.04" fill="none" stroke="#d9d9d9" stroke-width="1"/>
<polyline points="416.10,202.87 424.14,202.63 432.18,202.38 440.21,202.13 448.25,201.76 456.29,201.30 464.33,200.71 472.36,200.10 480.40,199.90 488.44,199.28 496.48,198.33 504.51,197.58 512.55,195.96 520.59,194.91 528.62,193.44 536.66,191.98 544.70,189.90 552.74,188.93 560.77,183.60 568.81,181.99 576.85,179.66 584.89,178.06 592.92,172.45 600.96,169.20 609.00,160.93 617.04,150.08 625.08,141.28 633.11,135.45 641.15,119.57 649.19,111.10 657.23,98.62" fill="none" stroke="#d9d9d9" stroke-width="1"/>
<polyline points="416.10,202.87 424.14,202.64 432.18,202.36 440.21,202.11 448.25,201.86 456.29,201.28 464.33,200.90 472.36,200.37 480.40,199.59 488.44,198.96 496.48,198.41 504.51,197.33 512.55,196.48 520.59,194.67 528.62,193.43 536.66,191.79 544.70,189.07 552.74,188.40 560.77,186.81 568.81,182.10 576.85,176.68 584.89,173.28 592.92,170.52 600.96,162.29 609.00,155.93 617.04,147.07 625.08,147.01 633.11,136.93 641.15,129.64 649.19,120.27 657.23,99.57" fill="none" stroke="#d9d9d9" stroke-width="1"/>
<polyline points="416.10,202.87 424.14,202.63 432.18,202.37 440.21,201.99 448.25,201.59 456.29,201.20 464.33,200.65 472.36,200.08 480.40,199.77 488.44,199.03 496.48,197.90 504.51,196.64 512.55,196.14 520.59,195.08 528.62,193.65 536.66,192.62 544.70,189.19 552.74,186.48 560.77,182.56 568.81,182.98 576.85,179.89 584.89,171.99 592.92,170.80 600.96,168.52 609.00,159.98 617.04,147.36 625.08,138.45 633.11,134.62 641.15,120.83 649.19,107.03 657.23,92.52" fill="none" stroke="#d9d9d9" stroke-width="1"/>
<polyline points="416.10,202.87 424.14,202.62 432.18,202.31 440.21,201.93 448.25,201.50 456.29,201.13 464.33,200.92 472.36,200.16 480.40,199.84 488.44,198.16 496.48,197.85 504.51,197.51 512.55,196.82 520.59,194.79 528.62,192.85 536.66,190.57 544.70,188.47 552.74,187.09 560.77,183.31 568.81,181.38 576.85,179.70 584.89,173.15 592.92,167.43 600.96,164.56 609.00,158.35 617.04,147.49 625.08,136.86 633.11,133.57 641.15,116.85 649.19,118.89 657.23,99.61" fill="none" stroke="#d9d9d9" stroke-width="1"/>
<polyline points="416.10,202.87 424.14,202.63 432.18,202.34 440.21,202.09 448.25,201.71 456.29,201.19 464.33,200.81 472.36,200.14 480.40,199.46 488.44,199.25 496.48,198.21 504.51,196.70 512.55,196.19 520.59,194.50 528.62,192.55 536.66,191.65 544.70,189.41 552.74,185.86 560.77,182.48 568.81,181.09 576.85,175.66 584.89,171.40 592.92,166.90 600.96,158.18 609.00,151.61 617.04,145.05 625.08,134.68 633.11,124.62 641.15,109.78 649.19,101.82 657.23,99.68" fill="none" stroke="#d9d9d9" stroke-width="1"/>
<polyline points="416.10,202.87 424.14,202.61 432.18,202.31 440.21,201.98 448.25,201.60 456.29,201.14 464.33,200.76 472.36,199.95 480.40,199.22 488.44,198.70 496.48,197.51 504.51,196.59 512.55,195.34 520.59,193.61 528.62,190.22 536.66,190.16 544.70,187.83 552.74,184.92 560.77,182.08 568.81,177.26 576.85,175.45 584.89,172.16 592.92,167.26 600.96,164.67 609.00,154.00 617.04,150.76 625.08,138.99 633.11,124.12 641.15,118.93 649.19,106.34 657.23,91.86" fill="none" stroke="#d9d9d9" stroke-width="1"/>
<polyline points="416.10,202.87 424.14,202.61 432.18,202.37 440.21,201.97 448.25,201.51 456.29,201.28 464.33,201.08 472.36,199.77 480.40,199.07 488.44,198.92 496.48,197.28 504.51,195.60 512.55,195.85 520.59,193.40 528.62,191.42 536.66,189.86 544.70,188.49 552.74,185.47 560.77,183.64 568.81,179.81 576.85,176.34 584.89,172.57 592.92,166.02 600.96,158.11 609.00,150.12 617.04,142.84 625.08,129.17 633.11,128.37 641.15,116.25 649.19,101.90 657.23,78.98" fill="none" stroke="#d9d9d9" stroke-width="1"/>
<polyline points="416.10,202.87 424.14,202.64 432.18,202.36 440.21,202.00 448.25,201.42 456.29,200.97 464.33,200.47 472.36,199.76 480.40,198.76 488.44,198.09 496.48,196.42 504.51,196.24 512.55,194.30 520.59,192.69 528.62,190.67 536.66,187.97 544.70,186.90 552.74,184.33 560.77,181.53 568.81,179.42 576.85,176.64 584.89,173.03 592.92,165.32 600.96,164.92 609.00,159.46 617.04,149.00 625.08,133.84 633.11,125.27 641.15,107.54 649.19,97.43 657.23,86.87" fill="none" stroke="#d9d9d9" stroke-width="1"/>
<polyline points="416.10,202.87 424.14,202.65 432.18,202.40 440.21,202.11 448.25,201.78 456.29,201.40 464.33,200.96 472.36,200.46 480.40,199.88 488.44,199.21 496.48,198.44 504.51,197.55 512.55,196.53 520.59,195.35 528.62,194.00 536.66,192.44 544.70,190.64 552.74,188.58 560.77,186.20 568.81,183.46 576.85,180.31 584.89,176.68 592.92,172.50 600.96,167.68 609.00,162.14 617.04,155.77 625.08,148.42 633.11,139.97 641.15,130.23 649.19,119.02 657.23,106.12" fill="none" stroke="#ee4136" stroke-width="1.6"/>
<line x1="448.25" y1="195.78" x2="448.25" y2="204.30" stroke="#000" stroke-width="1.7"/>
<line x1="443.95" y1="195.78" x2="452.55" y2="195.78" stroke="#000" stroke-width="1.7"/>
<line x1="496.48" y1="157.56" x2="496.48" y2="204.30" stroke="#000" stroke-width="1.7"/>
<line x1="492.18" y1="157.56" x2="500.78" y2="157.56" stroke="#000" stroke-width="1.7"/>
<line x1="560.77" y1="133.40" x2="560.77" y2="203.31" stroke="#000" stroke-width="1.7"/>
<line x1="556.48" y1="133.40" x2="565.07" y2="133.40" stroke="#000" stroke-width="1.7"/>
<line x1="556.48" y1="203.31" x2="565.07" y2="203.31" stroke="#000" stroke-width="1.7"/>
<line x1="609.00" y1="118.20" x2="609.00" y2="173.89" stroke="#000" stroke-width="1.7"/>
<line x1="604.70" y1="118.20" x2="613.30" y2="118.20" stroke="#000" stroke-width="1.7"/>
<line x1="604.70" y1="173.89" x2="613.30" y2="173.89" stroke="#000" stroke-width="1.7"/>
<line x1="657.23" y1="72.02" x2="657.23" y2="146.19" stroke="#000" stroke-width="1.7"/>
<line x1="652.93" y1="72.02" x2="661.52" y2="72.02" stroke="#000" stroke-width="1.7"/>
<line x1="652.93" y1="146.19" x2="661.52" y2="146.19" stroke="#000" stroke-width="1.7"/>
<polyline points="416.10,202.88 448.25,200.04 496.48,182.99 560.77,168.35 609.00,146.05 657.23,109.11" fill="none" stroke="#000" stroke-width="4.1" stroke-linejoin="round" stroke-linecap="round"/>
<circle cx="416.10" cy="202.88" r="3.5" fill="#000"/>
<circle cx="448.25" cy="200.04" r="3.5" fill="#000"/>
<circle cx="496.48" cy="182.99" r="3.5" fill="#000"/>
<circle cx="560.77" cy="168.35" r="3.5" fill="#000"/>
<circle cx="609.00" cy="146.05" r="3.5" fill="#000"/>
<circle cx="657.23" cy="109.11" r="3.5" fill="#000"/>
<line x1="430.2" y1="32.9" x2="449.7" y2="32.9" stroke="#dcdcdc" stroke-width="2"/>
<text x="459.2" y="37.8" font-size="16.5">i-th run</text>
<line x1="519.6" y1="32.9" x2="538.6" y2="32.9" stroke="#ee4136" stroke-width="2"/>
<text x="548.7" y="37.8" font-size="16.1">in silico</text>
<line x1="609.9" y1="32.9" x2="629.2" y2="32.9" stroke="#1a1a1a" stroke-width="2"/>
<text x="639.0" y="37.8" font-size="16.1">in vivo</text>
</svg>
</body></html>
